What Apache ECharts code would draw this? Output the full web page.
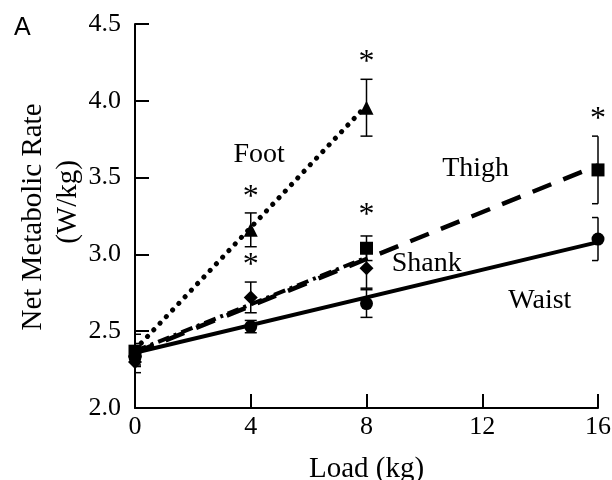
<!DOCTYPE html>
<html>
<head>
<meta charset="utf-8">
<script src="https://cdn.jsdelivr.net/npm/echarts@6/dist/echarts.min.js"></script>
<style>html,body{margin:0;padding:0;background:#fff}#c{width:612px;height:480px}</style>
</head>
<body>
<div id="c"></div>
<script>
// ---- data ----
const xTicks = [0, 4, 8, 12, 16];
const yTicks = [2.0, 2.5, 3.0, 3.5, 4.0, 4.5];

const footX = [0, 4, 8];
const footY = [2.38, 3.16, 3.955];
const footErr = [0.10, 0.11, 0.185];

const thighX = [0, 8, 16];
const thighY = [2.37, 3.04, 3.55];
const thighErr = [0.05, 0.08, 0.22];

const shankX = [0, 4, 8];
const shankY = [2.30, 2.72, 2.91];
const shankErr = [0.07, 0.10, 0.13];

const waistX = [0, 4, 8, 16];
const waistY = [2.33, 2.53, 2.68, 3.10];
const waistErr = [0.06, 0.04, 0.09, 0.14];

// regression fit lines (end points)
const footFit = [[0, 2.38], [8, 3.97]];
const thighFit = [[0, 2.36], [16, 3.58]];
const shankFit = [[0, 2.37], [8, 2.98]];
const waistFit = [[0, 2.36], [16, 3.08]];

// significance asterisks
const starX = [4, 4, 8, 8, 16];
const starY = [3.37, 2.93, 4.25, 3.25, 3.88];

// group labels
const labelNames = ['Foot', 'Thigh', 'Shank', 'Waist'];
const labelX = [4.29, 11.77, 10.08, 13.99];
const labelY = [3.65, 3.56, 2.94, 2.70];

// ---- chart ----
const serif = 'Liberation Serif';
function pts(xs, ys) { return xs.map((x, i) => [x, ys[i]]); }
function errData(xs, ys, es) { return xs.map((x, i) => [x, ys[i] - es[i], ys[i] + es[i]]); }

const errRender = function (params, api) {
  const x = api.value(0), lo = api.value(1), hi = api.value(2);
  const a = api.coord([x, lo]), b = api.coord([x, hi]);
  const cs = params.coordSys;
  const w = 6;
  const l = Math.max(a[0] - w, cs.x), r = Math.min(a[0] + w, cs.x + cs.width);
  const st = { stroke: '#000', lineWidth: 1.5 };
  return {
    type: 'group',
    children: [
      { type: 'line', shape: { x1: a[0], y1: a[1], x2: b[0], y2: b[1] }, style: st },
      { type: 'line', shape: { x1: l, y1: a[1], x2: r, y2: a[1] }, style: st },
      { type: 'line', shape: { x1: l, y1: b[1], x2: r, y2: b[1] }, style: st }
    ]
  };
};

function fitLine(data, dash, width, cap) {
  return {
    type: 'line', data: data, symbol: 'none', silent: true, z: 2,
    lineStyle: { color: '#000', width: width, type: dash, cap: cap || 'butt', opacity: 1 }
  };
}
function errSeries(xs, ys, es) {
  return { type: 'custom', renderItem: errRender, data: errData(xs, ys, es), clip: false, z: 3, silent: true };
}
function markSeries(xs, ys, sym, size) {
  return {
    type: 'scatter', data: pts(xs, ys), symbol: sym, symbolSize: size, clip: false, z: 4,
    itemStyle: { color: '#000', opacity: 1 }, silent: true
  };
}

const chart = echarts.init(document.getElementById('c'), null, { renderer: 'canvas' });
chart.setOption({
  animation: false,
  backgroundColor: '#fff',
  grid: { left: 135, right: 14, top: 24, bottom: 72, containLabel: false, outerBoundsMode: 'none' },
  xAxis: {
    type: 'value', min: xTicks[0], max: xTicks[xTicks.length - 1], interval: 4,
    name: 'Load (kg)', nameLocation: 'middle', nameGap: 47,
    nameTextStyle: { fontFamily: serif, fontSize: 29, color: '#000' },
    axisLine: { show: true, lineStyle: { color: '#000', width: 2 } },
    axisTick: { show: true, inside: true, length: 14, lineStyle: { color: '#000', width: 2 } },
    axisLabel: { fontFamily: serif, fontSize: 26, color: '#000', margin: 6 },
    splitLine: { show: false }
  },
  yAxis: {
    type: 'value', min: yTicks[0], max: yTicks[yTicks.length - 1], interval: 0.5,
    axisLine: { show: true, lineStyle: { color: '#000', width: 2 } },
    axisTick: { show: true, inside: true, length: 14, lineStyle: { color: '#000', width: 2 } },
    axisLabel: { fontFamily: serif, fontSize: 26, color: '#000', margin: 14, formatter: v => v.toFixed(1) },
    splitLine: { show: false }
  },
  graphic: [
    { type: 'text', left: 14, top: 16, style: { text: 'A', font: '25px "Liberation Sans"', fill: '#000' } },
    { type: 'text', x: 33, y: 217, rotation: Math.PI / 2,
      style: { text: 'Net Metabolic Rate', font: '29px "Liberation Serif"', fill: '#000', align: 'center', verticalAlign: 'middle' } },
    { type: 'text', x: 68, y: 202, rotation: Math.PI / 2,
      style: { text: '(W/kg)', font: '29px "Liberation Serif"', fill: '#000', align: 'center', verticalAlign: 'middle' } }
  ],
  series: [
    fitLine(footFit, [0.1, 9], 5, 'round'),
    fitLine(shankFit, [12, 5, 3, 5], 4),
    fitLine(thighFit, [20, 13], 4.5),
    fitLine(waistFit, 'solid', 4),
    errSeries(footX, footY, footErr),
    errSeries(thighX, thighY, thighErr),
    errSeries(shankX, shankY, shankErr),
    errSeries(waistX, waistY, waistErr),
    markSeries(footX, footY, 'triangle', 14),
    markSeries(thighX, thighY, 'rect', 13),
    markSeries(shankX, shankY, 'diamond', 14),
    markSeries(waistX, waistY, 'circle', 13),
    {
      type: 'scatter', symbolSize: 0, clip: false, z: 5, silent: true,
      itemStyle: { opacity: 1 },
      data: pts(starX, starY),
      label: { show: true, position: 'inside', formatter: '*', fontFamily: serif, fontSize: 32, color: '#000', textBorderWidth: 0 }
    },
    {
      type: 'scatter', symbolSize: 0, clip: false, z: 5, silent: true,
      itemStyle: { opacity: 1 },
      data: labelNames.map((n, i) => ({ name: n, value: [labelX[i], labelY[i]] })),
      label: { show: true, position: 'inside', formatter: p => p.name, fontFamily: serif, fontSize: 28, color: '#000', textBorderWidth: 0 }
    }
  ]
});
</script>
</body>
</html>
